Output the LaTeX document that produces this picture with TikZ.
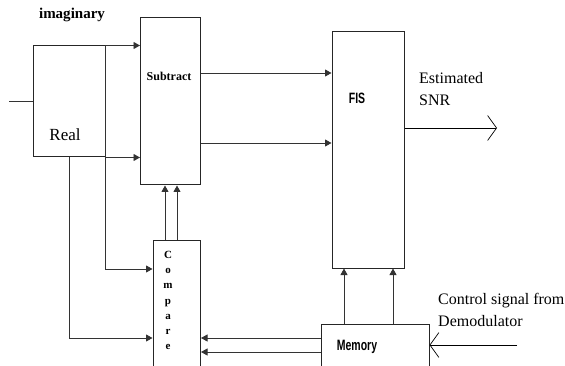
\documentclass[tikz,border=0pt]{standalone}
\usepackage{fontspec}
\setmainfont{Liberation Serif}[BoldFont={Liberation Serif Bold}]
\newfontfamily\condfont[FakeStretch=0.7]{Liberation Sans}
\usepackage{tikz}
\usetikzlibrary{arrows.meta}

\begin{document}
\begin{tikzpicture}[
  x=1pt, y=-1pt,
  font=\fontsize{16}{22}\selectfont,
  blk/.style={draw=black!85, line width=1pt, inner sep=0pt},
  lbl/.style={inner sep=0pt},
  cond/.style={lbl, font=\fontsize{15}{18}\selectfont\condfont\bfseries},
  arr/.style={-{Triangle[length=6.5pt, width=7pt]}, line width=0.9pt, draw=black!80},
  barb/.style={-{Straight Barb[length=9pt, width=25pt, line width=0.7pt]}, line width=0.8pt},
  wire/.style={line width=0.9pt, draw=black!80}]
  \useasboundingbox (0,0) rectangle (565,366);
  % blocks
  \node[blk, minimum width=72pt, minimum height=111pt] (real) at (69,101.5) {};
  \node[blk, minimum width=60pt, minimum height=167pt] (sub) at (170.5,101.5) {};
  \node[blk, minimum width=72pt, minimum height=236pt] (fis) at (368,150) {};
  \node[blk, minimum width=47.5pt, minimum height=131pt] (cmp) at (176.75,306.5) {};
  \node[blk, minimum width=108pt, minimum height=48pt] (mem) at (375,348) {};
  % texts
  \node[lbl, font=\fontsize{15}{18}\selectfont\bfseries] (imag) at (72,15) {imaginary};
  \node[lbl, font=\fontsize{17}{20}\selectfont] (reallbl) at (65,135) {Real};
  \node[lbl, font=\fontsize{12}{14}\selectfont\bfseries] (sublbl) at (169,76) {Subtract};
  \node[cond] (fislbl) at (357,98) {FIS};
  \node[cond] (memlbl) at (357,347) {Memory};
  \node[lbl, align=center, font=\fontsize{11}{15.2}\selectfont\bfseries] (cmplbl) at (168,300.5)
    {C\\o\\m\\p\\a\\r\\e};
  \node[lbl, anchor=west, align=left] (snr) at (419,89) {Estimated\\SNR};
  \node[lbl, anchor=west, align=left] (ctltxt) at (438,310) {Control signal from\\Demodulator};
  % free ends
  \coordinate (src) at (9,101.5);
  \coordinate (out) at (497,128);
  \coordinate (ctl) at (517,345);
  % connectors
  \draw[wire] (src) -- (real.west);
  \draw[arr] (real.north east) -- (real.north east -| sub.west);
  \draw[arr] (real.south east) -- (real.south east -| sub.west);
  \draw[arr] (real.north east) |- ([yshift=37.5pt]cmp.west);
  \draw[arr] (real.south) |- ([yshift=-31.5pt]cmp.west);
  \draw[arr] ([yshift=10pt]mem.west) -- ([yshift=10pt]mem.west -| cmp.east);
  \draw[arr] ([yshift=-4pt]mem.west) -- ([yshift=-4pt]mem.west -| cmp.east);
  \draw[arr] ([xshift=-11.75pt]cmp.north) -- ([xshift=-11.75pt]cmp.north |- sub.south);
  \draw[arr] ([xshift=0.25pt]cmp.north) -- ([xshift=0.25pt]cmp.north |- sub.south);
  \draw[arr] ([yshift=28.5pt]sub.east) -- ([yshift=28.5pt]sub.east -| fis.west);
  \draw[arr] ([yshift=-41.5pt]sub.east) -- ([yshift=-41.5pt]sub.east -| fis.west);
  \draw[arr] ([xshift=-31pt]mem.north) -- ([xshift=-31pt]mem.north |- fis.south);
  \draw[arr] ([xshift=18pt]mem.north) -- ([xshift=18pt]mem.north |- fis.south);
  \draw[barb] (fis.east |- out) -- (out);
  \draw[barb] (ctl) -- (ctl -| mem.east);
\end{tikzpicture}
\end{document}
